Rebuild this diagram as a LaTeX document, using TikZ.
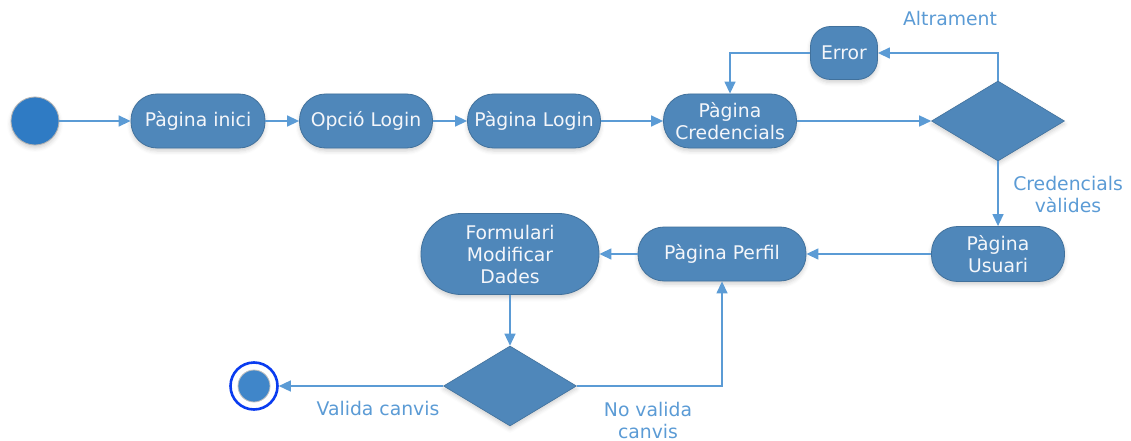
\documentclass[tikz,border=0pt]{standalone}
\usepackage{fontspec}
\setmainfont{DejaVu Sans}
\usetikzlibrary{shapes.geometric,arrows.meta,shadows.blur}
\definecolor{nodefill}{HTML}{4F87BA}
\definecolor{nodeedge}{HTML}{41719C}
\definecolor{flow}{HTML}{5B9BD5}
\definecolor{nodetext}{HTML}{F4F6FA}
\definecolor{startfill}{HTML}{2F7BC4}
\definecolor{endring}{HTML}{0A3CF0}
\begin{document}
\begin{tikzpicture}[x=1pt,y=-1pt,
  font=\fontsize{18.8}{22}\selectfont,
  soft/.style={blur shadow={shadow xshift=0pt,shadow yshift=-3pt,shadow blur radius=4pt,shadow opacity=18}},
  pill/.style={soft,rectangle,fill=nodefill,draw=nodeedge,line width=0.8pt,
    text=nodetext,align=center,inner sep=0pt,rounded corners=26pt,
    minimum height=54pt},
  choice/.style={soft,diamond,fill=nodefill,draw=nodeedge,line width=0.6pt,
    inner sep=0pt,minimum width=133pt,minimum height=80pt},
  arr/.style={draw=flow,line width=1.4pt,-{Triangle[length=12pt,width=11pt]}},
  lbl/.style={text=flow,align=center,inner sep=0pt}]
\useasboundingbox (0,0) rectangle (1131,441);

% start and end points
\node[circle,fill=startfill,draw=black!30,line width=0.8pt,minimum size=48pt,inner sep=0pt,soft] (start) at (35,121) {};
\node[circle,draw=endring,line width=2.6pt,minimum size=47pt,inner sep=0pt,fill=white] (finish) at (254,386) {};
\node[circle,fill=startfill!92!white,draw=black!25,line width=0.8pt,minimum size=32pt,inner sep=0pt] (finishdot) at (254,386) {};

% activities
\node[pill,minimum width=134pt] (inici) at (198,121) {Pàgina inici};
\node[pill,minimum width=133pt] (opcio) at (366,121) {Opció Login};
\node[pill,minimum width=133pt] (login) at (534,121) {Pàgina Login};
\node[pill,minimum width=133pt] (cred) at (730,121) {Pàgina\\Credencials};
\node[pill,minimum width=67pt,minimum height=53pt,rounded corners=20pt] (error) at (844,53) {Error};
\node[choice] (dec1) at (998,121) {};
\node[pill,minimum width=133pt,minimum height=55pt] (usuari) at (998,254) {Pàgina\\Usuari};
\node[pill,minimum width=168pt] (perfil) at (722,254) {Pàgina Perfil};
\node[pill,minimum width=178pt,minimum height=81pt,rounded corners=40pt] (form) at (510,254) {Formulari\\Modificar\\Dades};
\node[choice] (dec2) at (510,386) {};

% flows
\draw[arr] (start) -- (inici);
\draw[arr] (inici) -- (opcio);
\draw[arr] (opcio) -- (login);
\draw[arr] (login) -- (cred);
\draw[arr] (cred.east) -- (dec1.west);
\draw[arr] (dec1.north) |- (error.east);
\draw[arr] (error.west) -| (cred.north);
\draw[arr] (dec1.south) -- (usuari.north);
\draw[arr] (usuari) -- (perfil);
\draw[arr] (perfil) -- (form);
\draw[arr] (form) -- (dec2);
\draw[arr] (dec2.west) -- (finish.east);
\draw[arr] (dec2.east) -| (perfil.south);

% guard labels
\node[lbl] (lalt) at (950,18) {Altrament};
\node[lbl] (lval) at (1068,194) {Credencials\\vàlides};
\node[lbl] (lcanv) at (378,408) {Valida canvis};
\node[lbl] (lnocanv) at (648,420) {No valida\\canvis};
\end{tikzpicture}
\end{document}
